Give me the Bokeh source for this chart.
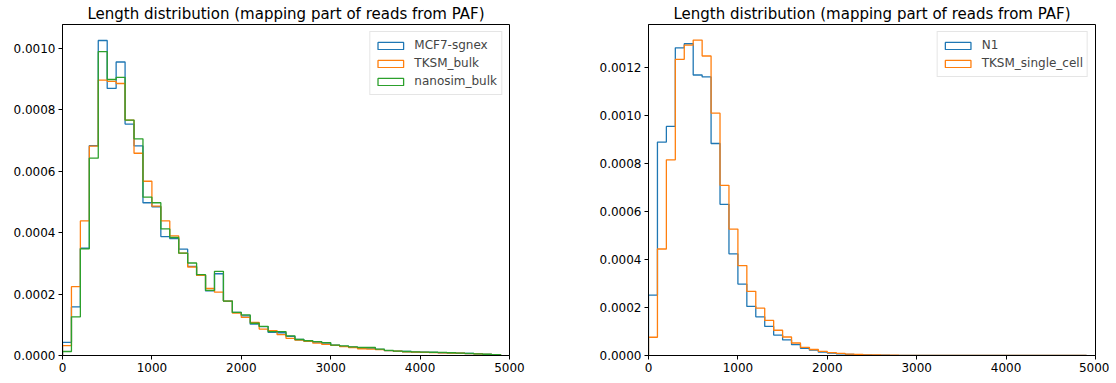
import numpy as np
from bokeh.plotting import figure
from bokeh.layouts import row
from bokeh.models import FixedTicker, PrintfTickFormatter, Legend, LegendItem, Range1d
from bokeh.embed import file_html
from bokeh.resources import INLINE

# ---- data (density per bin, units 1e-5), bins of width 100 from 0 to 4900 ----
bin_edges = list(range(0, 5000, 100))  # 50 edges -> 49 bins

mcf7_sgnex = [4.3, 15.8, 34.9, 68.3, 102.5, 86.9, 95.5, 75.3, 68.2, 49.7, 48.4, 38.7, 38.0, 34.6, 29.0,
              26.1, 21.0, 26.6, 17.7, 14.0, 12.9, 10.2, 9.4, 7.5, 7.4,
              6.2, 5.2, 4.7, 4.4, 4.0, 3.4, 3.0, 2.7, 2.4, 2.4, 2.0, 1.6, 1.4, 1.3, 1.1, 1.1, 1.0, 0.9,
              0.85, 0.8, 0.65, 0.5, 0.35, 0.3]
tksm_bulk = [3.2, 22.4, 43.8, 68.1, 89.6, 89.2, 88.5, 76.6, 65.8, 56.7, 48.6, 43.8, 38.9, 33.3, 28.8,
             26.1, 21.8, 20.6, 17.7, 13.8, 12.4, 10.8, 8.6, 8.1, 6.8,
             5.6, 5.0, 4.6, 4.0, 3.6, 3.3, 2.9, 2.6, 2.2, 2.1, 1.9, 1.6, 1.4, 1.2, 1.1, 1.0, 0.95, 0.85,
             0.8, 0.75, 0.6, 0.5, 0.35, 0.3]
nanosim_bulk = [1.3, 12.6, 34.7, 64.2, 98.9, 89.8, 90.5, 76.6, 70.5, 51.5, 49.7, 41.2, 38.4, 33.3, 30.1,
                26.3, 21.2, 27.4, 17.7, 14.0, 13.2, 10.5, 9.5, 7.8, 7.8,
                6.4, 5.2, 4.8, 4.5, 4.2, 3.4, 3.1, 2.8, 2.6, 2.6, 2.1, 1.7, 1.4, 1.3, 1.2, 1.1, 1.05, 1.0,
                0.9, 0.8, 0.7, 0.5, 0.4, 0.3]

n1 = [25.1, 88.8, 95.3, 128.0, 129.7, 116.7, 115.9, 88.2, 62.9, 42.3, 29.7, 20.4, 16.1, 12.1, 8.5,
      6.5, 4.5, 3.0, 2.2, 1.4, 1.0, 0.7, 0.5, 0.35, 0.25, 0.18, 0.12, 0.08, 0.05, 0.04, 0.03, 0.02,
      0.02, 0.01, 0.01, 0.01, 0.0, 0.0, 0.0, 0.0, 0.0, 0.0, 0.0, 0.0, 0.0, 0.0, 0.0, 0.0, 0.0]
tksm_single_cell = [7.6, 44.3, 81.4, 123.2, 129.1, 131.2, 124.6, 100.8, 70.8, 52.6, 37.4, 26.7, 19.7, 14.6,
                    10.5, 7.7, 5.2, 3.4, 2.5, 1.7, 1.2, 0.85, 0.6, 0.45, 0.3, 0.2, 0.15, 0.1, 0.07, 0.05,
                    0.03, 0.02, 0.02, 0.01, 0.01, 0.01, 0.0, 0.0, 0.0, 0.0, 0.0, 0.0, 0.0, 0.0, 0.0, 0.0,
                    0.0, 0.0, 0.0]

x_ticks = [0, 1000, 2000, 3000, 4000, 5000]
left_y_ticks = [0, 0.0002, 0.0004, 0.0006, 0.0008, 0.0010]
right_y_ticks = [0, 0.0002, 0.0004, 0.0006, 0.0008, 0.0010, 0.0012]
title_text = "Length distribution (mapping part of reads from PAF)"

BLUE, ORANGE, GREEN = "#1f77b4", "#ff7f0e", "#2ca02c"
FONT = "DejaVu Sans"


def outline(values):
    edges = np.array(bin_edges + [bin_edges[-1] + 100], dtype=float)
    v = np.array(values, dtype=float) * 1e-5
    xs = np.repeat(edges, 2)
    ys = np.concatenate([[0.0], np.repeat(v, 2), [0.0]])
    return xs, ys


def make_fig(width, border_left, border_right, ymax, yticks):
    p = figure(width=width, height=379, output_backend="svg", toolbar_location=None,
               x_range=Range1d(0, 5000), y_range=Range1d(0, ymax),
               min_border_left=border_left, min_border_right=border_right,
               min_border_top=22, min_border_bottom=24, title=title_text)
    p.title.text_font = FONT
    p.title.text_font_size = "15px"
    p.title.text_font_style = "normal"
    p.title.text_color = "black"
    p.title.align = "center"
    p.title.standoff = 4
    p.title.offset = 0
    p.xgrid.visible = False
    p.ygrid.visible = False
    p.outline_line_color = "black"
    p.outline_line_width = 1
    p.outline_line_alpha = 1
    p.background_fill_color = "white"
    p.border_fill_color = "white"
    p.xaxis.ticker = FixedTicker(ticks=x_ticks)
    p.yaxis.ticker = FixedTicker(ticks=yticks)
    p.yaxis.formatter = PrintfTickFormatter(format="%.4f")
    for ax in (p.xaxis[0], p.yaxis[0]):
        ax.axis_line_color = "black"
        ax.major_tick_line_color = "black"
        ax.major_tick_out = 4
        ax.major_tick_in = 0
        ax.minor_tick_line_color = None
        ax.major_label_text_font = FONT
        ax.major_label_text_font_size = "12px"
        ax.major_label_text_color = "black"
        ax.major_label_standoff = 3
    return p


def add_series(p, series):
    items = []
    for label, vals, color in series:
        xs, ys = outline(vals)
        p.line(xs, ys, line_color=color, line_width=1.3)
    for label, vals, color in series:
        # zero-size legend proxy (outlined rectangle like a step histogram patch)
        proxy = p.quad(left=[bin_edges[0]], right=[bin_edges[0]], top=[0], bottom=[0],
                       fill_color=None, line_color=color, line_width=1.3)
        items.append(LegendItem(label=label, renderers=[proxy]))
    lg = Legend(items=items, location="top_right")
    lg.label_text_font = FONT
    lg.label_text_font_size = "12px"
    lg.label_standoff = 8
    lg.glyph_width = 32
    lg.glyph_height = 9
    lg.label_height = 18
    lg.spacing = 0
    lg.padding = 4
    lg.margin = 7
    lg.border_line_color = "#cccccc"
    lg.border_line_width = 1
    lg.background_fill_alpha = 0.8
    p.add_layout(lg)


p1 = make_fig(549, 62, 40, 0.001077, left_y_ticks)
add_series(p1, [("MCF7-sgnex", mcf7_sgnex, BLUE),
                ("TKSM_bulk", tksm_bulk, ORANGE),
                ("nanosim_bulk", nanosim_bulk, GREEN)])

p2 = make_fig(560, 99, 14, 0.001377, right_y_ticks)
add_series(p2, [("N1", n1, BLUE),
                ("TKSM_single_cell", tksm_single_cell, ORANGE)])

layout = row(p1, p2)
open("out.html", "w").write(file_html(layout, INLINE))
